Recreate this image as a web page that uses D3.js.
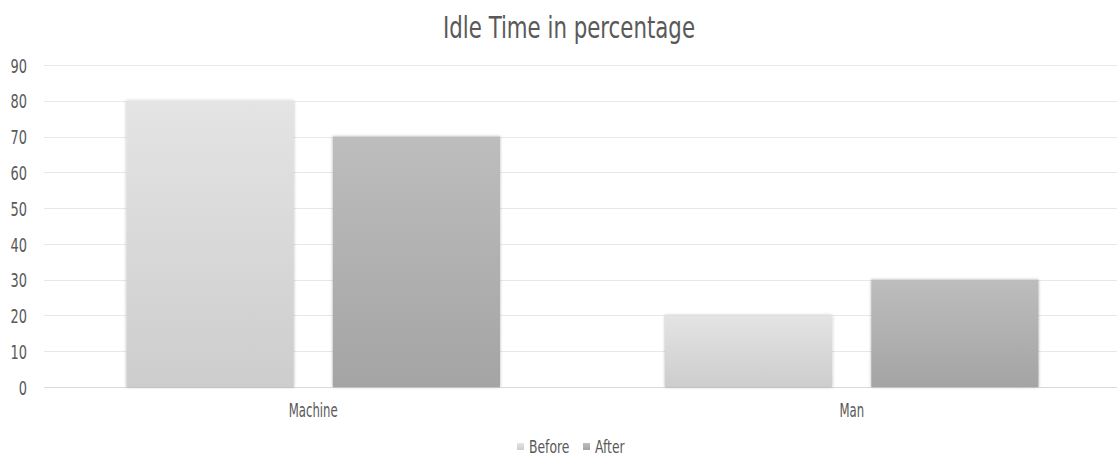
<!DOCTYPE html>
<html>
<head>
<meta charset="utf-8">
<script src="https://cdnjs.cloudflare.com/ajax/libs/d3/7.8.5/d3.min.js"></script>
<style>
  html, body { margin: 0; padding: 0; background: #ffffff; }
  svg { display: block; }
  text { font-family: "Liberation Sans Narrow", "DejaVu Sans Condensed", "Arial Narrow", sans-serif; fill: #595959; }
</style>
</head>
<body>
<svg id="chart" width="1117" height="459"></svg>
<script>
// Chart data
const categories = ["Machine", "Man"];
const seriesNames = ["Before", "After"];
const beforeValues = [80, 20];
const afterValues = [70, 30];
const yTicks = [0, 10, 20, 30, 40, 50, 60, 70, 80, 90];
const titleText = "Idle Time in percentage";

const series = [
  { name: seriesNames[0], values: beforeValues, grad: "gradBefore", top: "#e4e4e4", bottom: "#cdcdcd" },
  { name: seriesNames[1], values: afterValues, grad: "gradAfter", top: "#bdbdbd", bottom: "#a4a4a4" }
];

const W = 1117, H = 459;
const plot = { left: 44, right: 1121, top: 65, bottom: 387 };

const svg = d3.select("#chart");
const defs = svg.append("defs");

// Vertical gradients for bar fills
series.forEach(s => {
  const g = defs.append("linearGradient")
    .attr("id", s.grad).attr("x1", 0).attr("y1", 0).attr("x2", 0).attr("y2", 1);
  g.append("stop").attr("offset", "0%").attr("stop-color", s.top);
  g.append("stop").attr("offset", "100%").attr("stop-color", s.bottom);
});

// Soft shadow around bars
const f = defs.append("filter").attr("id", "barShadow")
  .attr("x", "-10%").attr("y", "-10%").attr("width", "120%").attr("height", "120%");
f.append("feDropShadow").attr("dx", 0).attr("dy", 0).attr("stdDeviation", 1.6)
  .attr("flood-color", "#000").attr("flood-opacity", 0.3);

// Scales
const y = d3.scaleLinear().domain([0, 90]).range([plot.bottom, plot.top]);
const x0 = d3.scaleBand().domain(categories).range([plot.left, plot.right]).padding(0);
const x1 = d3.scaleBand().domain(seriesNames).range([0, x0.bandwidth()])
  .paddingInner(39 / 206).paddingOuter(0.4);

// Gridlines
svg.append("g")
  .selectAll("line")
  .data(yTicks)
  .join("line")
  .attr("x1", plot.left).attr("x2", W)
  .attr("y1", d => Math.round(y(d)) + 0.5).attr("y2", d => Math.round(y(d)) + 0.5)
  .attr("stroke", d => d === 0 ? "#d9d9d9" : "#e8e8e8")
  .attr("stroke-width", 1);

// Y axis labels
const yAxis = svg.append("g")
  .attr("transform", `translate(27,0)`)
  .call(d3.axisLeft(y).tickValues(yTicks).tickSize(0).tickPadding(0).tickFormat(d3.format("d")));
yAxis.select(".domain").remove();
yAxis.selectAll("text")
  .attr("x", 0)
  .attr("dy", "0.36em")
  .style("font-size", "20px")
  .attr("fill", "#595959")
  .attr("transform", "scale(0.72,1)");

// Bars
const groups = svg.append("g")
  .selectAll("g")
  .data(categories)
  .join("g")
  .attr("transform", d => `translate(${x0(d)},0)`);

groups.selectAll("rect")
  .data((c, i) => series.map(s => ({ key: s.name, value: s.values[i], grad: s.grad })))
  .join("rect")
  .attr("x", d => x1(d.key))
  .attr("width", x1.bandwidth())
  .attr("y", d => y(d.value))
  .attr("height", d => y(0) - y(d.value))
  .attr("fill", d => `url(#${d.grad})`)
  .attr("filter", "url(#barShadow)");

// Category labels
const xAxis = svg.append("g")
  .attr("transform", `translate(0,${plot.bottom})`)
  .call(d3.axisBottom(x0).tickSize(0).tickPadding(0));
xAxis.select(".domain").remove();
xAxis.selectAll(".tick text")
  .attr("y", 0)
  .attr("dy", 0)
  .attr("transform", "translate(0,30) scale(0.65,1)")
  .style("font-size", "20px")
  .attr("fill", "#595959");

// Title
svg.append("text")
  .attr("transform", "translate(569,38) scale(0.79,1.02)")
  .attr("text-anchor", "middle")
  .style("font-size", "30px")
  .attr("fill", "#595959")
  .text(titleText);

// Legend
const legendItems = [
  { name: seriesNames[0], grad: "gradBefore", x: 517 },
  { name: seriesNames[1], grad: "gradAfter", x: 583 }
];
const legend = svg.append("g");
const li = legend.selectAll("g").data(legendItems).join("g")
  .attr("transform", d => `translate(${d.x},0)`);
li.append("rect")
  .attr("x", 0).attr("y", 443).attr("width", 7).attr("height", 7)
  .attr("fill", d => `url(#${d.grad})`);
li.append("text")
  .attr("transform", "translate(12,453) scale(0.86,1.05)")
  .style("font-size", "16px")
  .attr("fill", "#595959")
  .text(d => d.name);
</script>
</body>
</html>
